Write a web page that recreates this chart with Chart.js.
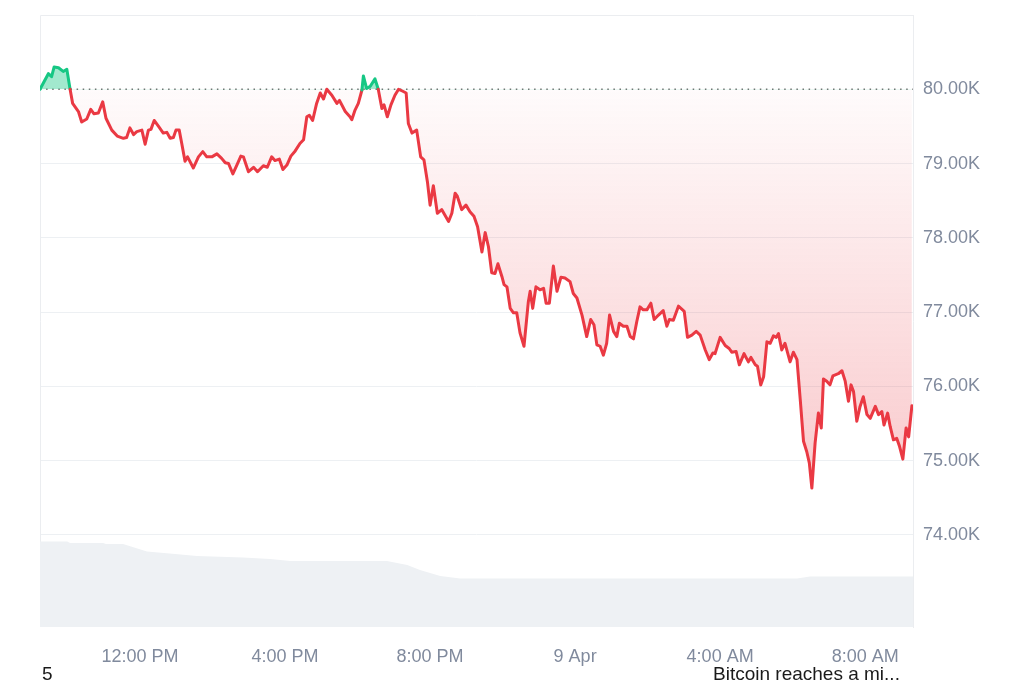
<!DOCTYPE html>
<html>
<head>
<meta charset="utf-8">
<script src="https://cdn.jsdelivr.net/npm/chart.js@4.4.1/dist/chart.umd.min.js"></script>
<style>
  html, body { margin: 0; padding: 0; background: #fff; }
  #wrap { position: relative; width: 1024px; height: 683px; overflow: hidden; }
  #c { position: absolute; left: 0; top: 0; }
  .note { position: absolute; font-family: "Liberation Sans", Arial, sans-serif; font-size: 19px; color: #1a1a1a; line-height: 1; }
</style>
</head>
<body>
<div id="wrap">
  <canvas id="c" width="1024" height="683"></canvas>
  <div class="note" style="left:42px; top:664px;">5</div>
  <div class="note" style="left:713px; top:664px;">Bitcoin reaches a mi...</div>
</div>
<script>
// Time in hours since 00:00 on 8 Apr; price in thousands of USD
const times = [9.24,9.47,9.56,9.63,9.75,9.88,9.98,10.07,10.14,10.30,10.39,10.53,10.64,10.73,10.85,10.97,11.06,11.22,11.37,11.54,11.63,11.72,11.82,11.91,12.05,12.14,12.23,12.30,12.39,12.51,12.64,12.74,12.83,12.92,12.99,13.08,13.15,13.24,13.31,13.47,13.61,13.73,13.84,13.98,14.12,14.25,14.35,14.44,14.56,14.67,14.78,14.85,14.99,15.13,15.24,15.40,15.51,15.63,15.72,15.84,15.94,16.05,16.16,16.28,16.41,16.51,16.60,16.67,16.76,16.87,16.97,17.06,17.15,17.29,17.43,17.50,17.66,17.79,17.84,17.93,18.02,18.12,18.16,18.25,18.35,18.48,18.57,18.67,18.73,18.82,18.92,19.03,19.13,19.22,19.34,19.40,19.50,19.63,19.74,19.83,19.93,20.00,20.09,20.20,20.32,20.51,20.60,20.69,20.75,20.87,20.99,21.10,21.21,21.31,21.43,21.52,21.61,21.70,21.79,21.87,21.98,22.04,22.12,22.21,22.30,22.39,22.48,22.59,22.71,22.76,22.83,22.92,23.03,23.13,23.20,23.29,23.40,23.50,23.61,23.72,23.86,23.95,24.05,24.19,24.32,24.43,24.52,24.60,24.69,24.78,24.87,24.95,25.06,25.15,25.22,25.33,25.43,25.52,25.61,25.70,25.79,25.88,25.98,26.09,26.18,26.30,26.43,26.53,26.60,26.71,26.85,27.01,27.10,27.22,27.34,27.45,27.59,27.70,27.80,27.86,28.00,28.14,28.25,28.32,28.44,28.53,28.66,28.78,28.85,28.97,29.03,29.12,29.20,29.29,29.38,29.47,29.55,29.61,29.70,29.79,29.93,30.02,30.12,30.21,30.30,30.39,30.46,30.53,30.62,30.71,30.79,30.85,30.94,31.03,31.11,31.26,31.36,31.45,31.54,31.61,31.68,31.77,31.86,31.95,32.05,32.14,32.28,32.37,32.46,32.52,32.62,32.69,32.78,32.87,32.95,33.04,33.13,33.20,33.29];
const prices = [80.00,80.21,80.17,80.30,80.29,80.24,80.27,80.00,79.81,79.70,79.56,79.60,79.73,79.67,79.68,79.83,79.61,79.45,79.37,79.34,79.35,79.48,79.39,79.43,79.45,79.26,79.45,79.46,79.58,79.50,79.41,79.42,79.34,79.35,79.45,79.45,79.27,79.03,79.09,78.94,79.09,79.16,79.09,79.09,79.13,79.07,79.01,79.00,78.86,78.98,79.10,79.09,78.89,78.95,78.89,78.97,78.95,79.09,79.04,79.06,78.92,78.98,79.10,79.17,79.27,79.32,79.63,79.65,79.58,79.81,79.95,79.87,80.00,79.92,79.81,79.85,79.70,79.63,79.59,79.72,79.81,79.99,80.18,80.01,80.04,80.14,80.00,79.74,79.79,79.63,79.79,79.92,80.00,79.98,79.95,79.54,79.41,79.45,79.09,79.05,78.74,78.44,78.70,78.33,78.38,78.22,78.33,78.60,78.56,78.38,78.44,78.35,78.29,78.15,77.81,78.07,77.88,77.53,77.52,77.65,77.48,77.37,77.34,77.05,76.99,76.99,76.72,76.54,77.14,77.28,77.05,77.34,77.30,77.32,77.12,77.12,77.62,77.28,77.47,77.46,77.41,77.25,77.19,76.96,76.67,76.90,76.83,76.56,76.54,76.42,76.58,76.96,76.74,76.67,76.85,76.81,76.81,76.67,76.64,76.87,77.07,77.03,77.03,77.12,76.90,76.96,77.02,76.81,76.90,76.89,77.08,77.01,76.66,76.69,76.74,76.69,76.49,76.36,76.45,76.44,76.66,76.55,76.51,76.46,76.47,76.29,76.44,76.33,76.39,76.29,76.27,76.02,76.13,76.60,76.58,76.68,76.66,76.71,76.49,76.58,76.33,76.46,76.36,75.82,75.26,75.12,74.97,74.63,75.24,75.64,75.44,76.10,76.07,76.02,76.14,76.17,76.21,76.07,75.80,76.02,75.93,75.53,75.73,75.86,75.62,75.57,75.73,75.62,75.66,75.48,75.64,75.46,75.28,75.30,75.19,75.02,75.44,75.32,75.74];

// 24h volume profile (billions USD), read at its break points
const volTimes = [9.24,9.99,10.07,10.98,11.06,11.53,12.19,12.97,13.57,14.84,15.59,16.14,18.81,19.09,19.37,19.72,20.28,20.83,30.12,30.48,33.32];
const volumes  = [27.97,27.97,27.45,27.45,27.12,27.12,24.70,23.86,23.20,22.71,22.22,21.57,21.57,20.90,20.26,18.63,16.67,15.85,15.85,16.50,16.50];

const baseline = 80.00;               // reference (open) price, K USD
const xTickValues = [12,16,20,24,28,32];
const xTickLabels = ["12:00 PM","4:00 PM","8:00 PM","9 Apr","4:00 AM","8:00 AM"];
const yTickValues = [74,75,76,77,78,79,80];
const xMin = 9.24, xMax = 33.32;
const yMin = 72.76, yMax = 81.0;
const volMax = 200;

const GREEN = '#16c784';
const RED = '#ea3943';
const TICK_COLOR = '#808a9d';
const GRID = '#edf0f3';
const FONT = { family: '"Liberation Sans", Arial, sans-serif', size: 18 };

const priceData = times.map((t, i) => ({ x: t, y: prices[i] }));
const volData = volTimes.map((t, i) => ({ x: t, y: volumes[i] }));
const baseData = [{ x: xMin, y: baseline }, { x: xMax, y: baseline }];

const frame = {
  id: 'frame',
  beforeDatasetsDraw(chart) {
    const { ctx, chartArea: a } = chart;
    ctx.save();
    ctx.strokeStyle = '#ebedf0';
    ctx.lineWidth = 1;
    ctx.beginPath();
    ctx.moveTo(a.left + 0.5, a.bottom);
    ctx.lineTo(a.left + 0.5, a.top + 0.5);
    ctx.lineTo(a.right, a.top + 0.5);
    ctx.stroke();
    ctx.restore();
  }
};

new Chart(document.getElementById('c'), {
  type: 'line',
  data: {
    datasets: [
      {
        label: 'Price',
        data: priceData,
        yAxisID: 'y',
        borderWidth: 3,
        borderJoinStyle: 'round',
        borderCapStyle: 'round',
        borderColor: RED,
        pointRadius: 0,
        tension: 0,
        order: 1,
        segment: {
          borderColor: c => (c.p0.parsed.y > baseline || c.p1.parsed.y > baseline) ? GREEN : RED
        },
        fill: (c) => {
          const chart = c.chart;
          const a = chart.chartArea;
          let below = 'rgba(234,57,67,0.12)';
          if (a && chart.scales.y) {
            const y0 = chart.scales.y.getPixelForValue(baseline);
            const y1 = chart.scales.y.getPixelForValue(74.6);
            const g = chart.ctx.createLinearGradient(0, y0, 0, y1);
            g.addColorStop(0, 'rgba(234,57,67,0.02)');
            g.addColorStop(1, 'rgba(234,57,67,0.27)');
            below = g;
          }
          return { target: { value: baseline }, above: 'rgba(22,199,132,0.40)', below };
        }
      },
      {
        label: 'Open',
        data: baseData,
        yAxisID: 'y',
        borderColor: 'rgba(80,80,80,0.8)',
        borderWidth: 1.5,
        borderDash: [1.5, 4.6],
        pointRadius: 0,
        fill: false,
        order: 2
      },
      {
        label: 'Volume',
        data: volData,
        yAxisID: 'v',
        borderWidth: 0,
        borderColor: 'rgba(0,0,0,0)',
        backgroundColor: '#eef1f4',
        pointRadius: 0,
        fill: 'origin',
        order: 3
      }
    ]
  },
  options: {
    responsive: false,
    animation: false,
    layout: { padding: { left: 40, top: 15, right: 0, bottom: 0 } },
    plugins: { legend: { display: false }, tooltip: { enabled: false } },
    scales: {
      x: {
        type: 'linear',
        min: xMin,
        max: xMax,
        grid: { display: false, drawTicks: false },
        border: { display: false },
        afterBuildTicks: s => { s.ticks = xTickValues.map(v => ({ value: v })); },
        afterFit: s => { s.height = 56; s.paddingLeft = 0; s.paddingRight = 0; },
        ticks: {
          padding: 19,
          color: TICK_COLOR,
          font: FONT,
          maxRotation: 0,
          autoSkip: false,
          callback: (v) => { const i = xTickValues.indexOf(v); return i >= 0 ? xTickLabels[i] : ''; }
        }
      },
      y: {
        position: 'right',
        min: yMin,
        max: yMax,
        afterBuildTicks: s => { s.ticks = yTickValues.map(v => ({ value: v })); },
        afterFit: s => { s.width = 111; s.paddingTop = 0; s.paddingBottom = 0; },
        grid: {
          drawTicks: false,
          color: c => (c.tick && c.tick.value === baseline) ? 'rgba(0,0,0,0)' : GRID,
          lineWidth: 1
        },
        border: { display: true, color: '#ebedf0' },
        ticks: {
          padding: 10,
          color: TICK_COLOR,
          font: FONT,
          callback: v => Number(v).toFixed(2) + 'K'
        }
      },
      v: {
        display: false,
        min: 0,
        max: volMax
      }
    }
  },
  plugins: [frame]
});
</script>
</body>
</html>
